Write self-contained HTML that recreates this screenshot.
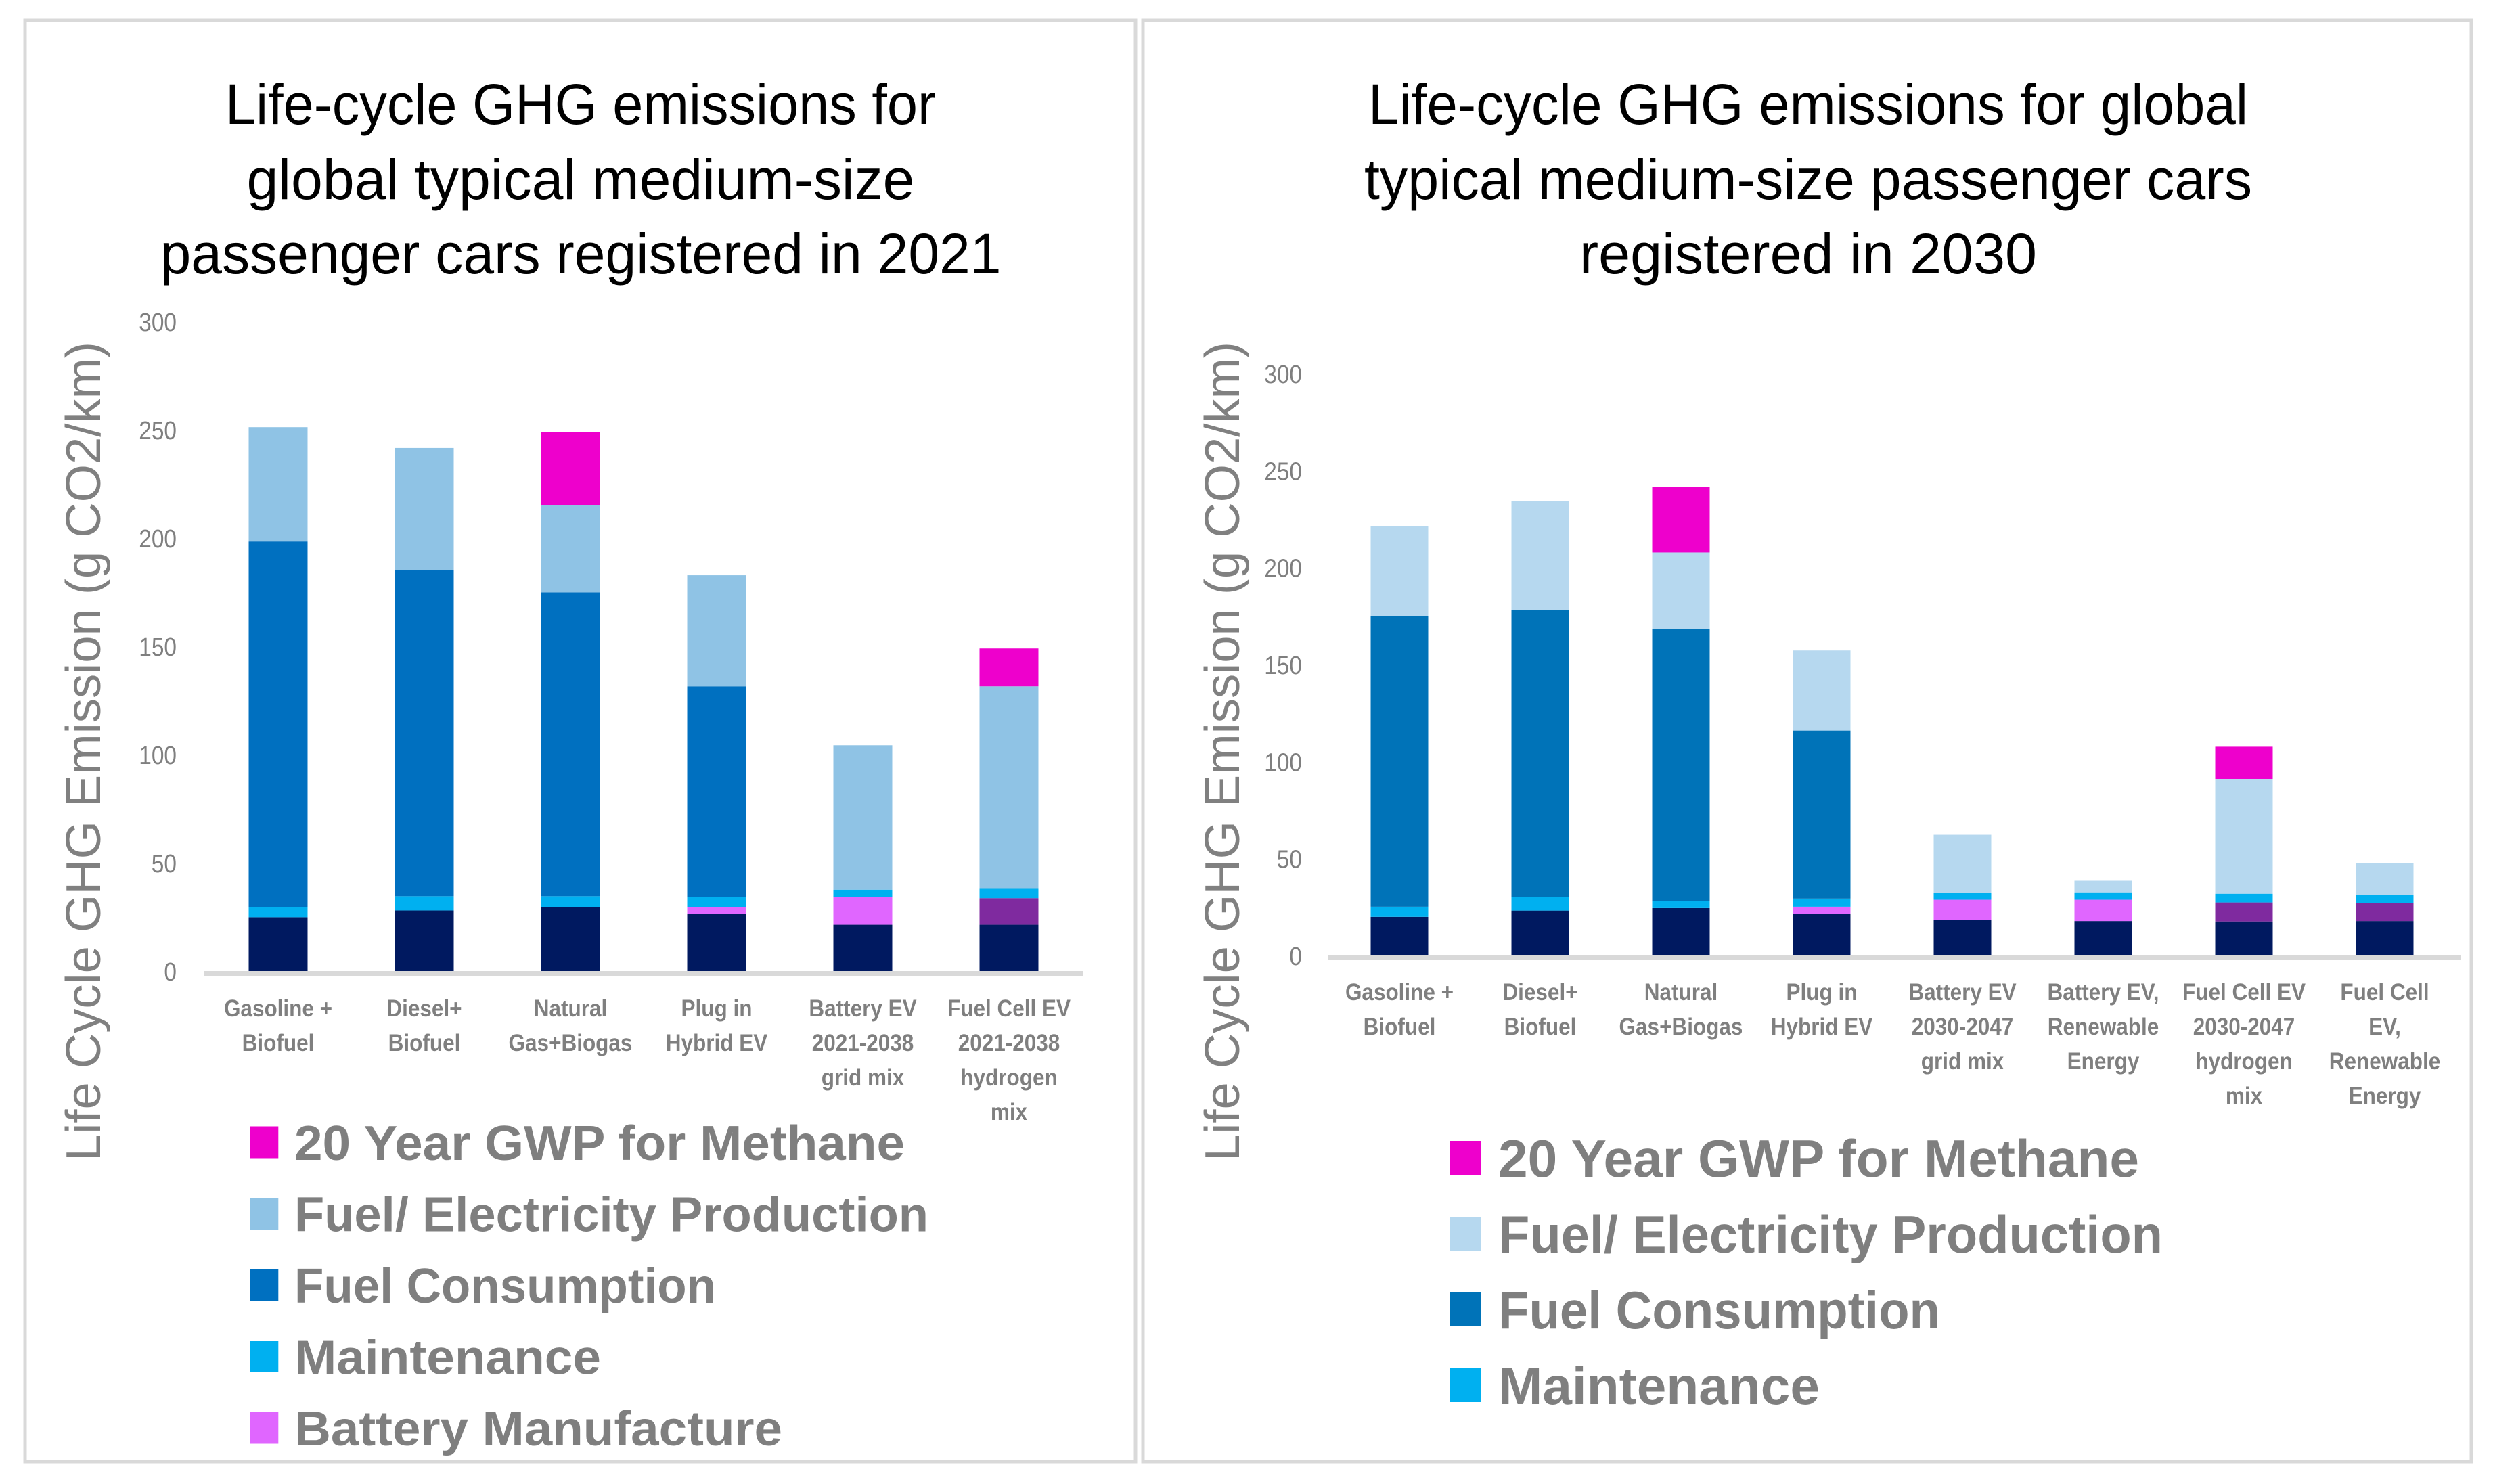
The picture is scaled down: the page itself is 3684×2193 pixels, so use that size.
<!DOCTYPE html>
<html><head><meta charset="utf-8"><style>
html,body{margin:0;padding:0;background:#fff;}
svg{display:block;font-family:"Liberation Sans",sans-serif;}
</style></head><body>
<svg id="root" width="3684" height="2193" viewBox="0 0 3684 2193" xmlns="http://www.w3.org/2000/svg">
<rect x="37" y="30" width="1641" height="2130" fill="none" stroke="#d9d9d9" stroke-width="5"/>
<rect x="1689" y="30" width="1963" height="2130" fill="none" stroke="#d9d9d9" stroke-width="5"/>
<g id="left"></g>
<g id="right"></g>
</svg>
<script>
// ---- data: 2021 chart ----
const cats2021 = [["Gasoline +","Biofuel"],["Diesel+","Biofuel"],["Natural","Gas+Biogas"],["Plug in","Hybrid EV"],["Battery EV","2021-2038","grid mix"],["Fuel Cell EV","2021-2038","hydrogen","mix"]];
const vehicle2021 = [25.2,28.3,30,26.8,21.7,21.7];
const battery2021 = [0,0,0,3.2,12.7,0];
const tank2021 = [0,0,0,0,0,12.3];
const maint2021 = [4.8,6.6,4.9,4.4,3.5,4.6];
const consumption2021 = [168.7,150.6,140.3,97.4,0,0];
const production2021 = [52.8,56.4,40.4,51.3,66.7,93.2];
const methane2021 = [0,0,33.7,0,0,17.5];
// ---- data: 2030 chart ----
const cats2030 = [["Gasoline +","Biofuel"],["Diesel+","Biofuel"],["Natural","Gas+Biogas"],["Plug in","Hybrid EV"],["Battery EV","2030-2047","grid mix"],["Battery EV,","Renewable","Energy"],["Fuel Cell EV","2030-2047","hydrogen","mix"],["Fuel Cell","EV,","Renewable","Energy"]];
const vehicle2030 = [20.3,23.5,24.8,21.7,18.8,18.1,17.9,18.1];
const battery2030 = [0,0,0,3.8,10.3,11,0,0];
const tank2030 = [0,0,0,0,0,0,9.8,9.2];
const maint2030 = [5.2,6.9,3.8,4.2,3.5,3.8,4.5,4.2];
const consumption2030 = [149.8,148.2,140,86.6,0,0,0,0];
const production2030 = [46.5,56.1,39.5,41.3,30,6,59.2,16.6];
const methane2030 = [0,0,33.8,0,0,0,16.6,0];
const ticks = [0,50,100,150,200,250,300];

const NS="http://www.w3.org/2000/svg";
function mk(parent,tag,attrs,text){const e=document.createElementNS(NS,tag);for(const k in attrs)e.setAttribute(k,attrs[k]);if(text!==undefined)e.textContent=text;parent.appendChild(e);return e;}

function draw(g,cfg){
  const y=v=>cfg.y0-(cfg.y0-cfg.y300)*v/300;
  cfg.title.forEach((t,i)=>{
    const e=mk(g,'text',{x:cfg.titleX,y:cfg.titleY[i],'text-anchor':'middle','font-size':84,fill:'#000',textLength:t[1],lengthAdjust:'spacingAndGlyphs'},t[0]);
    
    
  });
  const yt=mk(g,'text',{x:0,y:0,'text-anchor':'middle','font-size':72,fill:'#808080',transform:`translate(${cfg.ytX},${(cfg.ytTop+cfg.ytBot)/2}) rotate(-90)`,textLength:cfg.ytBot-cfg.ytTop,lengthAdjust:'spacingAndGlyphs'},'Life Cycle GHG Emission (g CO2/km)');
  
  
  ticks.forEach(t=>{
    const e=mk(g,'text',{x:0,y:0,'text-anchor':'end','font-size':38,fill:'#7f7f7f',transform:`translate(${cfg.tickX},${y(t)+13}) scale(0.88,1)`},String(t));
    
    
  });
  const series=[[cfg.vehicle,'#001960','vehicle-manufacture'],[cfg.battery,'#e066ff','battery-manufacture'],[cfg.tank,'#7f2a9f','fuel-cell-manufacture'],[cfg.maint,'#00b0f0','maintenance'],[cfg.cons,cfg.consColor,'fuel-consumption'],[cfg.prod,cfg.prodColor,'fuel-electricity-production'],[cfg.meth,'#ee00cc','methane-gwp']];
  cfg.cats.forEach((c,i)=>{
    const cx=cfg.x0+i*cfg.step;
    let acc=0;
    series.forEach(s=>{
      const v=s[0][i];
      if(v>0){
        const r=mk(g,'rect',{x:cx-cfg.bw/2,y:y(acc+v),width:cfg.bw,height:y(acc)-y(acc+v),fill:s[1]});
        
        
      }
      acc+=v;
    });
    c.forEach((line,j)=>{
      const e=mk(g,'text',{x:0,y:0,'text-anchor':'middle','font-size':35,'font-weight':'bold',fill:'#7f7f7f',transform:`translate(${cx},${cfg.catY+j*51}) scale(0.9,1)`},line);
      
      
    });
  });
  const ax=mk(g,'rect',{x:cfg.axL,y:cfg.y0-1,width:cfg.axR-cfg.axL,height:7,fill:'#d9d9d9'});
  
  
  cfg.legend.forEach((L,i)=>{
    const cy=cfg.legY+i*cfg.legStep;
    const sq=mk(g,'rect',{x:cfg.legX,y:cy-cfg.sq/2,width:cfg.sq*0.9,height:cfg.sq,fill:L[1]});
    
    
    const t=mk(g,'text',{x:cfg.legTX,y:cy+cfg.legFs*0.36,'font-size':cfg.legFs,'font-weight':'bold',fill:'#7f7f7f',textLength:L[2],lengthAdjust:'spacingAndGlyphs'},L[0]);
    
    
  });
}

draw(document.getElementById('left'),{
  title:[["Life-cycle GHG emissions for",1050],["global typical medium-size",987],["passenger cars registered in 2021",1243]],
  titleX:858,titleY:[183,294,404],
  ytX:148,ytTop:505,ytBot:1716,tickX:261,
  y0:1436,y300:476,x0:411,step:216,bw:87,axL:302,axR:1601,catY:1502,
  cats:cats2021,vehicle:vehicle2021,battery:battery2021,tank:tank2021,maint:maint2021,cons:consumption2021,prod:production2021,meth:methane2021,
  consColor:'#0070c0',prodColor:'#8fc3e5',
  legX:369,legTX:435,legY:1688,legStep:105.5,sq:47,legFs:72,
  legend:[["20 Year GWP for Methane",'#ee00cc',902],["Fuel/ Electricity Production",'#8fc3e5',937],["Fuel Consumption",'#0070c0',623],["Maintenance",'#00b0f0',453],["Battery Manufacture",'#e066ff',721]]
});
draw(document.getElementById('right'),{
  title:[["Life-cycle GHG emissions for global",1300],["typical medium-size passenger cars",1312],["registered in 2030",676]],
  titleX:2672,titleY:[183,294,404],
  ytX:1831,ytTop:505,ytBot:1716,tickX:1924,
  y0:1413,y300:553,x0:2068,step:208,bw:85,axL:1963,axR:3636,catY:1478,
  cats:cats2030,vehicle:vehicle2030,battery:battery2030,tank:tank2030,maint:maint2030,cons:consumption2030,prod:production2030,meth:methane2030,
  consColor:'#0073b8',prodColor:'#b6d8ef',
  legX:2143,legTX:2214,legY:1711,legStep:112,sq:50,legFs:78,
  legend:[["20 Year GWP for Methane",'#ee00cc',947],["Fuel/ Electricity Production",'#b6d8ef',982],["Fuel Consumption",'#0073b8',653],["Maintenance",'#00b0f0',475]]
});
</script>
</body></html>
